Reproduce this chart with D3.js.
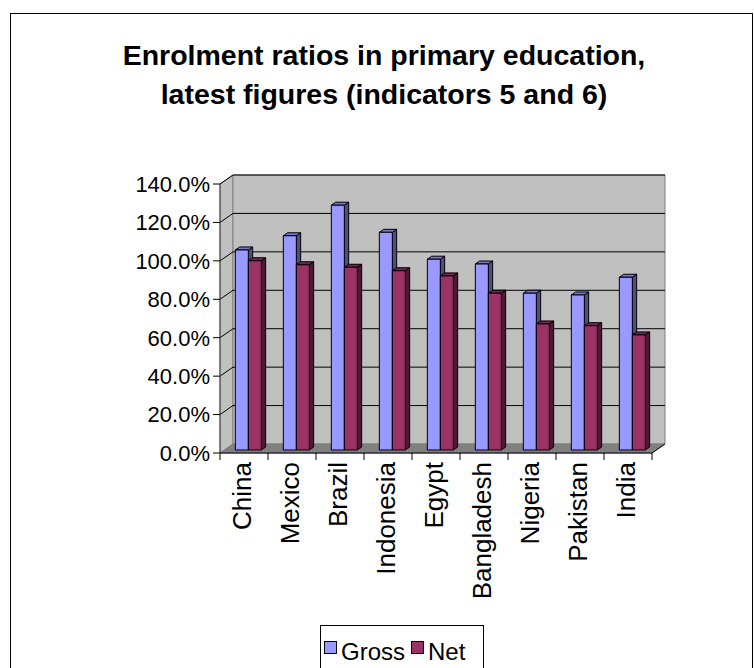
<!DOCTYPE html>
<html><head><meta charset="utf-8">
<script src="https://cdn.jsdelivr.net/npm/d3@7"></script>
<style>body{margin:0;background:#fff}svg{display:block;font-family:Arial,"Liberation Sans",sans-serif}</style>
</head><body>
<svg id="c" width="754" height="668"></svg>
<script>
const categories = ["China","Mexico","Brazil","Indonesia","Egypt","Bangladesh","Nigeria","Pakistan","India"];
const gross = [104.1, 111.5, 127.4, 113.3, 99.3, 96.8, 81.6, 80.7, 89.9];
const net   = [98.5, 96.4, 95.1, 93.3, 90.6, 81.6, 65.6, 64.7, 59.9];
const seriesNames = ["Gross","Net"];
const yTicks = [0,20,40,60,80,100,120,140];
const titleLines = ["Enrolment ratios in primary education,","latest figures (indicators 5 and 6)"];

const svg = d3.select("#c");
const DX = 13, DY = -9;
const x = d3.scaleBand().domain(categories).range([220, 652]);
const y = d3.scaleLinear().domain([0, 140]).range([453, 184]);
const inner = d3.scaleBand().domain(seriesNames).range([0, 26]);
const colors = {
  Gross: {front:"#9999FF", top:"#7777CC", side:"#4D4D80"},
  Net:   {front:"#993366", top:"#73264D", side:"#4D1A33"}
};

svg.append("rect").attr("x",10.5).attr("y",13.5).attr("width",742).attr("height",700)
  .attr("fill","none").attr("stroke","#000").attr("stroke-width",1);

svg.append("g").selectAll("text").data(titleLines).join("text")
  .attr("x",384).attr("y",(d,i)=>65+i*38.5).attr("text-anchor","middle")
  .attr("font-size",28.5).attr("font-weight","bold").attr("fill","#000").text(d=>d);

const x0 = x.range()[0], x1 = x.range()[1];
const yb = y(0), yt = y(140);
const pt = (a)=>a.map(p=>p.join(",")).join(" ");

svg.append("polygon").attr("points", pt([[x0,yt],[x0+DX,yt+DY],[x0+DX,yb+DY],[x0,yb]]))
  .attr("fill","#C0C0C0").attr("stroke","#808080");
svg.append("polygon").attr("points", pt([[x0+DX,yt+DY],[x1+DX,yt+DY],[x1+DX,yb+DY],[x0+DX,yb+DY]]))
  .attr("fill","#C0C0C0").attr("stroke","#808080");
svg.append("polygon").attr("points", pt([[x0,yb],[x0+DX,yb+DY],[x1+DX,yb+DY],[x1,yb]]))
  .attr("fill","#808080").attr("stroke","#808080");

const grid = svg.append("g").attr("stroke","#000").attr("stroke-width",1).attr("fill","none");
yTicks.filter(t=>t>0).forEach(t=>{
  const yy = y(t);
  grid.append("polyline").attr("points", pt([[x0,yy],[x0+DX,yy+DY],[x1+DX,yy+DY]]));
});

const bd = 1/3;
const bdx = DX/3, bdy = DY/3;
const bars = svg.append("g").attr("stroke","#000").attr("stroke-width",1).attr("stroke-linejoin","round");
categories.forEach((c,i)=>{
  [["Gross",gross[i]],["Net",net[i]]].forEach(([s,v])=>{
    const bx = x(c) + (x.bandwidth()-26)/2 + inner(s) + DX*bd;
    const w = inner.bandwidth();
    const top = y(v) + DY*bd;
    const base = yb + DY*bd;
    const col = colors[s];
    bars.append("polygon").attr("points", pt([[bx+w,top],[bx+w+bdx,top+bdy],[bx+w+bdx,base+bdy],[bx+w,base]])).attr("fill",col.side);
    bars.append("polygon").attr("points", pt([[bx,top],[bx+bdx,top+bdy],[bx+w+bdx,top+bdy],[bx+w,top]])).attr("fill",col.top);
    bars.append("rect").attr("x",bx).attr("y",top).attr("width",w).attr("height",base-top).attr("fill",col.front);
  });
});

const ya = svg.append("g");
ya.append("line").attr("x1",x0).attr("x2",x0).attr("y1",yt).attr("y2",yb).attr("stroke","#404040");
ya.selectAll("line.t").data(yTicks).join("line").attr("class","t")
  .attr("x1",x0-7).attr("x2",x0).attr("y1",d=>y(d)).attr("y2",d=>y(d)).attr("stroke","#000");
ya.selectAll("text").data(yTicks).join("text")
  .attr("x",210).attr("y",d=>y(d)).attr("dy","0.36em").attr("text-anchor","end")
  .attr("font-size",22).attr("fill","#000").text(d=>d3.format(".1f")(d)+"%");

const xa = svg.append("g");
xa.append("line").attr("x1",x0).attr("x2",x1).attr("y1",yb).attr("y2",yb).attr("stroke","#000");
xa.append("line").attr("x1",x1).attr("x2",x1+DX).attr("y1",yb).attr("y2",yb+DY).attr("stroke","#000");
xa.selectAll("line.t").data(d3.range(categories.length+1)).join("line").attr("class","t")
  .attr("x1",i=>x0+i*x.step()).attr("x2",i=>x0+i*x.step()).attr("y1",yb).attr("y2",yb+7).attr("stroke","#000");
xa.selectAll("text").data(categories).join("text")
  .attr("transform",d=>`translate(${x(d)+x.bandwidth()/2-2.5},462) rotate(-90)`)
  .attr("text-anchor","end").attr("dy","0.36em")
  .attr("font-size",26).attr("fill","#000").text(d=>d);

const lg = svg.append("g");
lg.append("rect").attr("x",320.5).attr("y",625.5).attr("width",163).attr("height",50)
  .attr("fill","#fff").attr("stroke","#000");
const items = [["Gross",324],["Net",411]];
items.forEach(([s,lx])=>{
  lg.append("rect").attr("x",lx+0.5).attr("y",641.5).attr("width",12).attr("height",12)
    .attr("fill",colors[s].front).attr("stroke","#000");
  lg.append("text").attr("x",lx+17).attr("y",660).attr("font-size",24).attr("fill","#000").text(s);
});
</script>
</body></html>
